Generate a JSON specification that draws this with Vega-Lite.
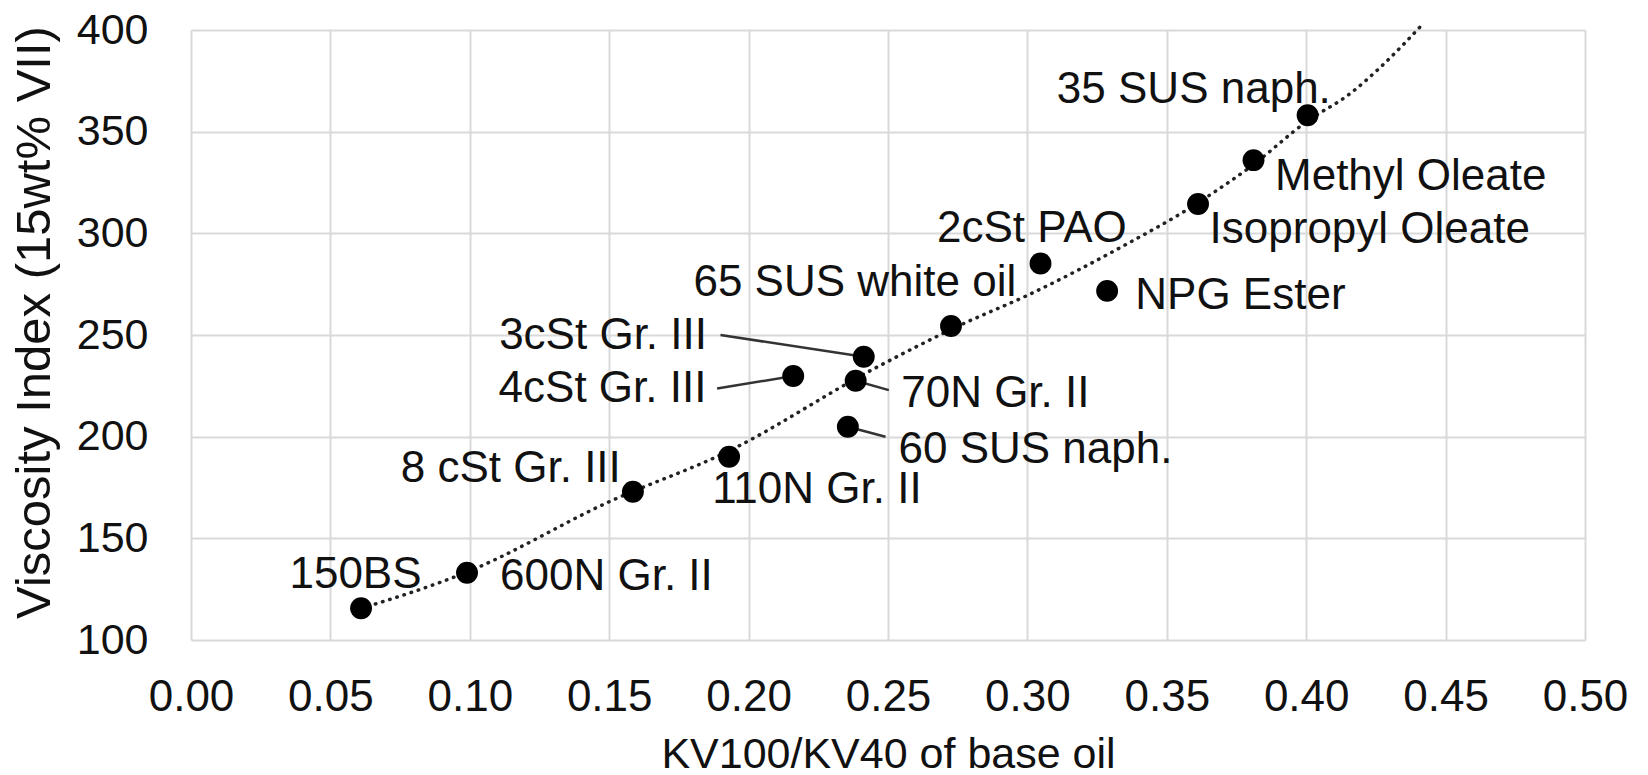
{
  "$schema": "https://vega.github.io/schema/vega-lite/v6.json",
  "width": 1394,
  "height": 610,
  "autosize": {"type": "none"},
  "padding": {"left": 191, "top": 30, "right": 63, "bottom": 135},
  "background": "white",
  "config": {
    "view": {"stroke": null},
    "font": "Liberation Sans",
    "axis": {
      "grid": true,
      "gridColor": "#d9d9d9",
      "gridWidth": 2,
      "domain": false,
      "ticks": false,
      "labelFlush": false,
      "labelOverlap": false,
      "labelBound": false,
      "labelFont": "Liberation Sans",
      "labelColor": "#111111",
      "titleFont": "Liberation Sans",
      "titleColor": "#111111",
      "titleFontWeight": "normal"
    }
  },
  "datasets": {
    "points": [
      {"oil": "150BS", "ratio": 0.061, "vi": 115.6},
      {"oil": "600N Gr. II", "ratio": 0.099, "vi": 133.1},
      {"oil": "8 cSt Gr. III", "ratio": 0.1585, "vi": 172.9},
      {"oil": "110N Gr. II", "ratio": 0.193, "vi": 190.1},
      {"oil": "4cSt Gr. III", "ratio": 0.216, "vi": 229.8},
      {"oil": "3cSt Gr. III", "ratio": 0.2413, "vi": 239.3},
      {"oil": "70N Gr. II", "ratio": 0.2384, "vi": 227.5},
      {"oil": "60 SUS naph.", "ratio": 0.2356, "vi": 204.9},
      {"oil": "65 SUS white oil", "ratio": 0.2726, "vi": 254.4},
      {"oil": "2cSt PAO", "ratio": 0.3047, "vi": 285.2},
      {"oil": "NPG Ester", "ratio": 0.3286, "vi": 271.7},
      {"oil": "Isopropyl Oleate", "ratio": 0.3612, "vi": 314.4},
      {"oil": "Methyl Oleate", "ratio": 0.3811, "vi": 336.0},
      {"oil": "35 SUS naph.", "ratio": 0.4005, "vi": 358.1}
    ],
    "labels": [
      {"text": "150BS", "lx": 0.059, "ly": 132},
      {"text": "600N Gr. II", "lx": 0.149, "ly": 131},
      {"text": "8 cSt Gr. III", "lx": 0.1147, "ly": 184},
      {"text": "110N Gr. II", "lx": 0.2245, "ly": 174},
      {"text": "4cSt Gr. III", "lx": 0.1476, "ly": 223.6},
      {"text": "3cSt Gr. III", "lx": 0.1478, "ly": 249.4},
      {"text": "70N Gr. II", "lx": 0.2885, "ly": 221.2},
      {"text": "60 SUS naph.", "lx": 0.3029, "ly": 193.6},
      {"text": "65 SUS white oil", "lx": 0.2381, "ly": 275.5},
      {"text": "2cSt PAO", "lx": 0.3016, "ly": 302.3},
      {"text": "NPG Ester", "lx": 0.3764, "ly": 269.4},
      {"text": "Isopropyl Oleate", "lx": 0.4228, "ly": 301.6},
      {"text": "Methyl Oleate", "lx": 0.4375, "ly": 327.6},
      {"text": "35 SUS naph.", "lx": 0.3597, "ly": 370.6}
    ],
    "leaders": [
      {"x1": 0.216, "y1": 229.8, "x2": 0.1887, "y2": 223.7},
      {"x1": 0.2413, "y1": 239.3, "x2": 0.1899, "y2": 250.0},
      {"x1": 0.2384, "y1": 227.5, "x2": 0.2503, "y2": 222.9},
      {"x1": 0.2356, "y1": 204.9, "x2": 0.2491, "y2": 200.0}
    ],
    "trend": [
      {"tx": 0.061, "ty": 115.5},
      {"tx": 0.100, "ty": 134},
      {"tx": 0.150, "ty": 168},
      {"tx": 0.193, "ty": 193},
      {"tx": 0.244, "ty": 232.7},
      {"tx": 0.276, "ty": 254.9},
      {"tx": 0.300, "ty": 269.5},
      {"tx": 0.336, "ty": 295},
      {"tx": 0.357, "ty": 311.4},
      {"tx": 0.368, "ty": 321.2},
      {"tx": 0.380, "ty": 332.7},
      {"tx": 0.400, "ty": 354.8},
      {"tx": 0.416, "ty": 369},
      {"tx": 0.428, "ty": 383.5},
      {"tx": 0.442, "ty": 403.2}
    ]
  },
  "layer": [
    {
      "data": {"name": "trend"},
      "mark": {"type": "line", "color": "#222222", "strokeWidth": 3.5, "strokeDash": [0.5, 7], "strokeCap": "round", "interpolate": "monotone", "clip": false},
      "encoding": {
        "x": {
          "field": "tx", "type": "quantitative",
          "scale": {"domain": [0, 0.5], "nice": false, "zero": false},
          "axis": {
            "values": [0, 0.05, 0.1, 0.15, 0.2, 0.25, 0.3, 0.35, 0.4, 0.45, 0.5],
            "format": ".2f",
            "labelFontSize": 44,
            "labelPadding": 35,
            "labelBaseline": "top",
            "title": "KV100/KV40 of base oil",
            "titleFontSize": 43,
            "titleBaseline": "alphabetic",
            "titleY": 127
          }
        },
        "y": {
          "field": "ty", "type": "quantitative",
          "scale": {"domain": [100, 400], "nice": false, "zero": false},
          "axis": {
            "values": [100, 150, 200, 250, 300, 350, 400],
            "format": "d",
            "labelFontSize": 43,
            "labelPadding": 43,
            "title": "Viscosity Index (15wt% VII)",
            "titleFontSize": 49,
            "titleAngle": -90,
            "titleBaseline": "alphabetic",
            "titleAlign": "center",
            "titleX": -142,
            "titleY": 292
          }
        }
      }
    },
    {
      "data": {"name": "leaders"},
      "mark": {"type": "rule", "color": "#333333", "strokeWidth": 2.5},
      "encoding": {
        "x": {"field": "x1", "type": "quantitative"},
        "y": {"field": "y1", "type": "quantitative"},
        "x2": {"field": "x2"},
        "y2": {"field": "y2"}
      }
    },
    {
      "data": {"name": "points"},
      "mark": {"type": "point", "filled": true, "shape": "circle", "size": 480, "color": "#000000", "opacity": 1},
      "encoding": {
        "x": {"field": "ratio", "type": "quantitative"},
        "y": {"field": "vi", "type": "quantitative"}
      }
    },
    {
      "data": {"name": "labels"},
      "mark": {"type": "text", "fontSize": 44, "font": "Liberation Sans", "color": "#111111", "align": "center", "baseline": "middle"},
      "encoding": {
        "x": {"field": "lx", "type": "quantitative"},
        "y": {"field": "ly", "type": "quantitative"},
        "text": {"field": "text"}
      }
    }
  ]
}
